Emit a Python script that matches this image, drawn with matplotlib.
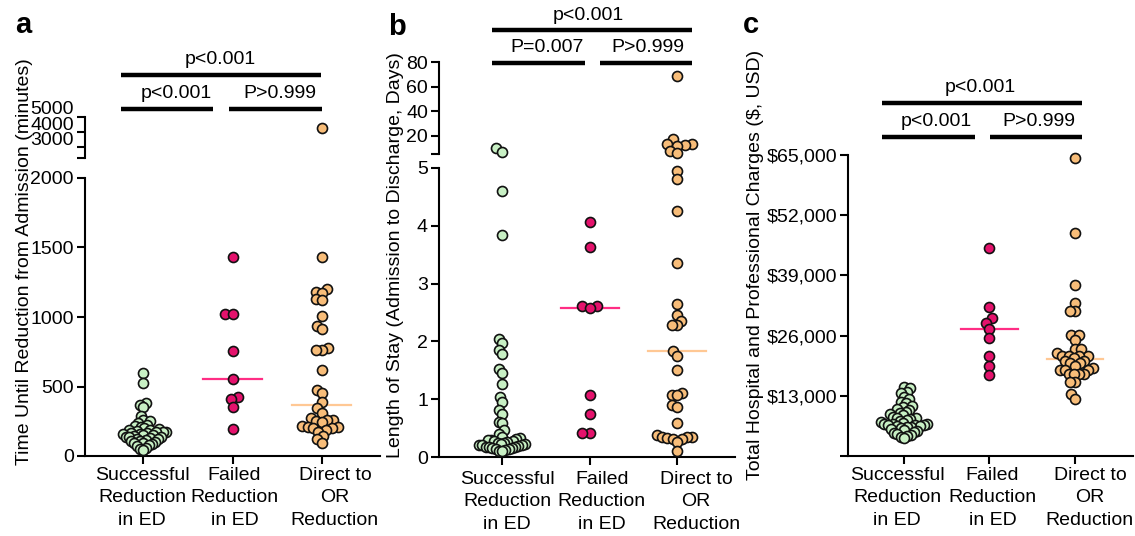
import numpy as np
import matplotlib
matplotlib.use("Agg")
import matplotlib.pyplot as plt
import matplotlib.transforms as mtransforms
from matplotlib.lines import Line2D

plt.rcParams['font.family'] = ['Liberation Sans', 'DejaVu Sans']

# categories
cats = ["Successful\nReduction\nin ED", "Failed\nReduction\nin ED", "Direct to\nOR\nReduction"]

# panel a: time until reduction (minutes)
time_success = [594, 527, 383, 370, 354, 290, 260, 250, 235, 225, 215, 210, 200, 195,
                190, 185, 180, 175, 175, 170, 165, 165, 160, 155, 150, 150, 145, 140,
                140, 135, 130, 125, 120, 115, 110, 105, 100, 95, 90, 85, 80, 70, 60, 50, 40]
time_failed = [1432, 1025, 1020, 754, 551, 426, 407, 354, 192]
time_direct = [4300, 1432, 1205, 1181, 1176, 1126, 1121, 1006, 936, 917, 774, 765, 765,
               618, 474, 450, 390, 342, 311, 270, 258, 258, 250, 247, 215, 210, 208, 205,
               200, 187, 175, 144, 120, 91]

# panel b: length of stay (days)
los_success = [10.0, 6.3, 4.6, 3.84, 2.05, 1.98, 1.85, 1.79, 1.53, 1.45, 1.27, 1.04, 0.95,
               0.81, 0.75, 0.61, 0.58, 0.46, 0.40, 0.35, 0.33, 0.32, 0.30, 0.30, 0.28, 0.27,
               0.26, 0.25, 0.24, 0.23, 0.22, 0.21, 0.21, 0.20, 0.19, 0.18, 0.18, 0.17, 0.16,
               0.15, 0.14, 0.13, 0.12, 0.11, 0.10]
los_failed = [4.06, 3.64, 2.62, 2.62, 2.58, 1.07, 0.74, 0.42, 0.42]
los_direct = [68.6, 16.9, 13.5, 13.0, 12.6, 11.7, 7.3, 5.5, 4.94, 4.81, 4.26, 3.36, 2.65,
              2.46, 2.36, 2.28, 2.28, 1.83, 1.75, 1.50, 1.10, 1.07, 1.07, 0.90, 0.86, 0.58,
              0.38, 0.35, 0.35, 0.34, 0.33, 0.32, 0.32, 0.26, 0.10]

# panel c: total charges (USD)
chg_success = [14970, 14610, 13900, 13530, 12800, 12300, 11700, 11370, 10800, 10500, 10100,
               9930, 9500, 9210, 9000, 8800, 8500, 8300, 8130, 8000, 7800, 7600, 7410, 7200,
               7000, 7000, 6900, 6800, 6690, 6600, 6500, 6400, 6300, 6200, 6000, 5800, 5600,
               5400, 5200, 5000, 4800, 4600, 4400, 4200, 3900]
chg_failed = [44840, 32250, 29870, 28790, 27350, 25550, 21590, 19430, 17490]
chg_direct = [64420, 48230, 36930, 33110, 31380, 31380, 26130, 26130, 25050, 23030, 23030,
              22170, 21590, 21590, 21590, 21590, 21090, 20600, 20500, 20000, 20000, 19500,
              19000, 18570, 18570, 18570, 17640, 17640, 17640, 17640, 16050, 16050, 13320, 12240]

fills = ['#c8f0c4', '#e4126c', '#f8bd79']
# the green median sits hidden under its cluster, so it is not drawn
med_cols = [None, '#ff2d84', '#ffc894']

W, H = 1135, 536
fig = plt.figure(figsize=(W / 100, H / 100), dpi=100)
FS = 14


def fx(px):
    return px / W


def fy(py):
    return 1 - py / H


def add_ax(left, top, right, bottom):
    return fig.add_axes([fx(left), fy(bottom), (right - left) / W, (bottom - top) / H])


def style(ax, upper=False):
    for s in ['top', 'right']:
        ax.spines[s].set_visible(False)
    for s in ['left', 'bottom']:
        ax.spines[s].set_linewidth(1.5)
    ax.tick_params(width=1.5, length=6, labelsize=FS, pad=2)
    ax.patch.set_alpha(0)
    if upper:
        ax.spines['bottom'].set_visible(False)
        ax.set_xticks([])


def swarm_offsets(ypix, d, cap):
    order = np.argsort(ypix)
    xs = np.zeros(len(ypix))
    placed = []
    for i in order:
        y = ypix[i]
        near = [(px, py) for px, py in placed if abs(py - y) < d]
        cands = [0.0]
        for px, py in near:
            dx = np.sqrt(d * d - (py - y) ** 2)
            cands += [px - dx, px + dx]
        cands.sort(key=abs)
        for c in cands:
            if all((c - px) ** 2 + (y - py) ** 2 >= d * d - 1e-6 for px, py in near):
                xs[i] = c
                break
        placed.append((xs[i], y))
    m = np.abs(xs).max()
    if m > cap:
        xs *= cap / m
    return xs


def swarm(ax, i, vals, color, d=7.5, cap=22):
    vals = np.asarray(vals, float)
    if len(vals) == 0:
        return
    pts = ax.transData.transform(np.column_stack([np.full(len(vals), i, float), vals]))
    pts[:, 0] += swarm_offsets(pts[:, 1], d, cap)
    dat = ax.transData.inverted().transform(pts)
    ax.plot(dat[:, 0], dat[:, 1], 'o', ms=7.2, mfc=color, mec='#111111', mew=1.2,
            ls='none', clip_on=False, zorder=3)


def median_line(ax, i, vals, color):
    if color is None:
        return
    m = np.median(vals)
    ax.plot([i - 0.33, i + 0.33], [m, m], color=color, lw=1.6, zorder=2, clip_on=False)


def sig_bar(x0, x1, y):
    fig.add_artist(Line2D([fx(x0), fx(x1)], [fy(y), fy(y)], transform=fig.transFigure,
                          color='black', lw=3.2, solid_capstyle='butt'))


def ftext(x, y, s, **kw):
    fig.text(fx(x), fy(y), s, ha='center', va='center', fontsize=FS, **kw)


def cat_axis(ax, offsets, top):
    ax.set_xticks(range(3))
    ax.set_xticklabels([])
    for i, (lab, off) in enumerate(zip(cats, offsets)):
        xp = ax.transData.transform((i, 0))[0] + off
        fig.text(fx(xp), fy(top), lab, ha='center', va='top', fontsize=FS,
                 linespacing=1.42, multialignment='center')


def panel(ax_lo, ax_hi, groups, cut, caps):
    for i, vals in enumerate(groups):
        vals = np.asarray(vals, float)
        median_line(ax_lo, i, vals, med_cols[i])
        if ax_hi is None:
            swarm(ax_lo, i, vals, fills[i], cap=caps[i])
        else:
            swarm(ax_lo, i, vals[vals <= cut], fills[i], cap=caps[i])
            swarm(ax_hi, i, vals[vals > cut], fills[i], cap=caps[i])


# ---------- panel a ----------
a_lo = add_ax(85, 178, 380, 456)
a_hi = add_ax(85, 117, 380, 158)
for ax in (a_lo, a_hi):
    ax.set_xlim(-0.65, 2.65)
style(a_lo)
style(a_hi, upper=True)
a_lo.set_ylim(0, 2000)
a_lo.set_yticks([0, 500, 1000, 1500, 2000])
a_hi.set_ylim(2300, 5000)
a_hi.set_yticks([2300, 3000, 4000, 5000])
a_hi.set_yticklabels([])
shift = mtransforms.ScaledTranslation(-0.11, 0.07, fig.dpi_scale_trans)
btr = mtransforms.blended_transform_factory(a_hi.transAxes, a_hi.transData)
for v in [3000, 4000, 5000]:
    a_hi.text(0, v, str(v), transform=btr + shift, ha='right', va='center', fontsize=FS)
cat_axis(a_lo, [-1, 2, 13], 467)
panel(a_lo, a_hi, [time_success, time_failed, time_direct], 2000, [23, 22, 20])
fig.text(fx(25), fy(262), 'Time Until Reduction from Admission (minutes)', rotation=90,
         ha='center', va='center', fontsize=FS)

# ---------- panel b ----------
b_lo = add_ax(439, 168, 735, 457)
b_hi = add_ax(439, 62, 735, 154)
for ax in (b_lo, b_hi):
    ax.set_xlim(-0.72, 2.66)
style(b_lo)
style(b_hi, upper=True)
b_lo.set_ylim(0, 5)
b_lo.set_yticks([0, 1, 2, 3, 4, 5])
b_hi.set_ylim(5, 80)
b_hi.set_yticks([5, 20, 40, 60, 80])
b_hi.set_yticklabels(['', '20', '40', '60', '80'])
cat_axis(b_lo, [5, 12, 19], 471)
panel(b_lo, b_hi, [los_success, los_failed, los_direct], 5, [23, 22, 20])
fig.text(fx(396), fy(255), 'Length of Stay (Admission to Discharge, Days)', rotation=90,
         ha='center', va='center', fontsize=FS)

# ---------- panel c ----------
c_ax = add_ax(848, 155, 1133, 456)
c_ax.set_xlim(-0.655, 2.68)
style(c_ax)
c_ax.set_ylim(0, 65000)
c_ax.set_yticks([0, 13000, 26000, 39000, 52000, 65000])
c_ax.set_yticklabels([''] + ['${:,}'.format(v) for v in [13000, 26000, 39000, 52000, 65000]])
cat_axis(c_ax, [-7, 3, 15], 467)
panel(c_ax, None, [chg_success, chg_failed, chg_direct], None, [23, 22, 18])
fig.text(fx(755), fy(265), 'Total Hospital and Professional Charges ($, USD)', rotation=90,
         ha='center', va='center', fontsize=FS)

# ---------- significance bars ----------
sig_bar(121, 321, 75)
sig_bar(121, 213, 109)
sig_bar(229, 322, 109)
ftext(220, 60, 'p<0.001')
ftext(176, 94, 'p<0.001')
ftext(280, 94, 'P>0.999')

sig_bar(492, 692, 30)
sig_bar(492, 585, 63)
sig_bar(600, 692, 63)
ftext(588, 16, 'p<0.001')
ftext(547, 48, 'P=0.007')
ftext(648, 48, 'P>0.999')

sig_bar(882, 1082, 103)
sig_bar(882, 975, 137)
sig_bar(990, 1082, 137)
ftext(980, 87, 'p<0.001')
ftext(936, 122, 'p<0.001')
ftext(1039, 122, 'P>0.999')

# panel letters
for x, y, s in [(15, 33, 'a'), (388, 35, 'b'), (743, 33, 'c')]:
    fig.text(fx(x), fy(y), s, fontsize=21, fontweight='bold', ha='left', va='baseline')

fig.savefig('out.png', dpi=100)
